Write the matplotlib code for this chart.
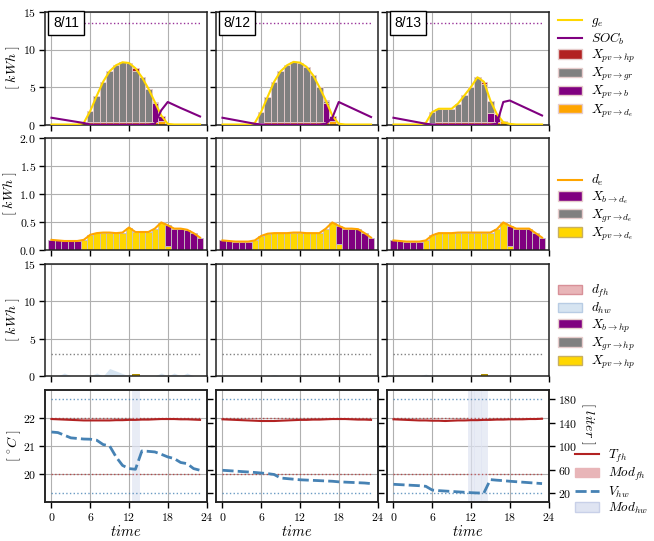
import numpy as np
import matplotlib
matplotlib.use('Agg')
import matplotlib.pyplot as plt
from matplotlib.patches import Patch
from matplotlib.lines import Line2D
from matplotlib.ticker import FuncFormatter

plt.rcParams['mathtext.fontset'] = 'cm'
plt.rcParams['font.family'] = 'DejaVu Serif'

hours = np.arange(24)
days = ['8/11', '8/12', '8/13']

# ---- electricity: PV generation and where it goes [kWh]
g_e = [
    [0, 0, 0, 0, 0, 0.2, 1.8, 3.8, 5.7, 7.1, 7.9, 8.3, 8.2, 7.5, 6.3, 4.8, 3.0, 1.2, 0.08, 0, 0, 0, 0, 0],
    [0, 0, 0, 0, 0, 0.2, 1.7, 3.7, 5.7, 7.1, 7.9, 8.35, 8.25, 7.7, 6.6, 5.0, 3.2, 1.2, 0.1, 0, 0, 0, 0, 0],
    [0, 0, 0, 0, 0, 0.2, 1.65, 2.1, 2.1, 2.1, 2.8, 3.9, 5.0, 6.3, 5.7, 3.2, 1.4, 0.3, 0.08, 0, 0, 0, 0, 0],
]
soc_b = [
    [0.9, 0.76, 0.62, 0.48, 0.34, 0.2, 0, 0, 0, 0, 0, 0, 0, 0, 0, 0, 0.1, 1.9, 3.0, 2.6, 2.2, 1.83, 1.45, 1.07],
    [0.9, 0.74, 0.58, 0.42, 0.26, 0.1, 0, 0, 0, 0, 0, 0, 0, 0, 0, 0, 0.1, 0.9, 3.0, 2.6, 2.2, 1.8, 1.4, 1.0],
    [0.9, 0.74, 0.58, 0.42, 0.26, 0.1, 0, 0, 0, 0, 0, 0, 0, 0, 0, 0, 0.1, 3.0, 3.2, 2.8, 2.4, 2.0, 1.6, 1.2],
]
soc_max = 13.5
pv_hp = [
    [0, 0, 0, 0, 0, 0, 0, 0, 0, 0, 0, 0, 0, 0.3, 0, 0, 0, 0, 0, 0, 0, 0, 0, 0],
    [0] * 24,
    [0, 0, 0, 0, 0, 0, 0, 0, 0, 0, 0, 0, 0, 0, 0.3, 0, 0, 0, 0, 0, 0, 0, 0, 0],
]
pv_gr = [
    [0, 0, 0, 0, 0, 0, 1.53, 3.5, 5.39, 6.79, 7.6, 7.99, 7.8, 6.88, 5.98, 4.48, 0.12, 0, 0, 0, 0, 0, 0, 0],
    [0, 0, 0, 0, 0, 0, 1.45, 3.41, 5.4, 6.8, 7.6, 8.04, 7.94, 7.4, 6.3, 4.7, 0.32, 0.1, 0, 0, 0, 0, 0, 0],
    [0, 0, 0, 0, 0, 0, 1.39, 1.8, 1.8, 1.8, 2.49, 3.59, 4.69, 5.99, 5.09, 1.69, 0.03, 0, 0, 0, 0, 0, 0, 0],
]
pv_b = [
    [0, 0, 0, 0, 0, 0, 0, 0, 0, 0, 0, 0, 0, 0, 0, 0, 2.5, 0.6, 0, 0, 0, 0, 0, 0],
    [0, 0, 0, 0, 0, 0, 0, 0, 0, 0, 0, 0, 0, 0, 0, 0, 2.5, 0.6, 0, 0, 0, 0, 0, 0],
    [0, 0, 0, 0, 0, 0, 0, 0, 0, 0, 0, 0, 0, 0, 0, 1.2, 1.0, 0, 0, 0, 0, 0, 0, 0],
]
pv_de = [
    [0, 0, 0, 0, 0, 0.18, 0.27, 0.30, 0.31, 0.31, 0.30, 0.31, 0.40, 0.32, 0.32, 0.32, 0.38, 0.49, 0.08, 0, 0, 0, 0, 0],
    [0, 0, 0, 0, 0, 0.17, 0.25, 0.29, 0.30, 0.30, 0.30, 0.31, 0.31, 0.30, 0.30, 0.30, 0.38, 0.49, 0.10, 0, 0, 0, 0, 0],
    [0, 0, 0, 0, 0, 0.17, 0.26, 0.30, 0.30, 0.30, 0.31, 0.31, 0.31, 0.31, 0.31, 0.31, 0.37, 0.49, 0.08, 0, 0, 0, 0, 0],
]

# ---- electric demand [kWh]
d_e = [
    [0.18, 0.17, 0.16, 0.16, 0.16, 0.18, 0.27, 0.30, 0.31, 0.31, 0.30, 0.31, 0.40, 0.32, 0.32, 0.32, 0.38, 0.49, 0.44, 0.38, 0.38, 0.36, 0.30, 0.22],
    [0.17, 0.16, 0.15, 0.15, 0.15, 0.17, 0.25, 0.29, 0.30, 0.30, 0.30, 0.31, 0.31, 0.30, 0.30, 0.30, 0.38, 0.49, 0.43, 0.38, 0.38, 0.37, 0.30, 0.22],
    [0.17, 0.16, 0.15, 0.15, 0.15, 0.17, 0.26, 0.30, 0.30, 0.30, 0.31, 0.31, 0.31, 0.31, 0.31, 0.31, 0.37, 0.49, 0.43, 0.38, 0.38, 0.38, 0.30, 0.22],
]
b_de = [
    [0.18, 0.17, 0.16, 0.16, 0.16, 0, 0, 0, 0, 0, 0, 0, 0, 0, 0, 0, 0, 0, 0.36, 0.38, 0.38, 0.36, 0.30, 0.22],
    [0.17, 0.16, 0.15, 0.15, 0.15, 0, 0, 0, 0, 0, 0, 0, 0, 0, 0, 0, 0, 0, 0.33, 0.38, 0.38, 0.37, 0.30, 0.22],
    [0.17, 0.16, 0.15, 0.15, 0.15, 0, 0, 0, 0, 0, 0, 0, 0, 0, 0, 0, 0, 0, 0.35, 0.38, 0.38, 0.38, 0.30, 0.22],
]
gr_de = [[0] * 24, [0] * 24, [0] * 24]

# ---- heat pump [kWh]
d_fh = [[0] * 24, [0] * 24, [0] * 24]
d_hw = [
    [0, 0, 0.4, 0, 0, 0, 0, 0.4, 0, 1.0, 0.67, 0.33, 0, 0, 0, 0, 0, 0.4, 0, 0.4, 0, 0.4, 0, 0],
    [0, 0, 0, 0, 0, 0, 0, 0, 0.2, 0, 0, 0, 0, 0, 0, 0, 0, 0, 0, 0, 0, 0, 0, 0],
    [0, 0, 0, 0, 0, 0.25, 0, 0, 0, 0, 0, 0, 0, 0, 0, 0, 0, 0, 0, 0, 0, 0, 0, 0],
]
b_hp = [[0] * 24, [0] * 24, [0] * 24]
gr_hp = [[0] * 24, [0] * 24, [0] * 24]
hp_max = 3.0

# ---- thermal states
T_fh = [
    [21.95, 21.94, 21.93, 21.92, 21.91, 21.90, 21.90, 21.90, 21.90, 21.90, 21.91, 21.91, 21.92, 21.92, 21.93, 21.93, 21.94, 21.95, 21.95, 21.95, 21.94, 21.94, 21.93, 21.92],
    [21.94, 21.93, 21.92, 21.91, 21.90, 21.89, 21.88, 21.88, 21.88, 21.89, 21.90, 21.91, 21.92, 21.92, 21.93, 21.93, 21.94, 21.95, 21.95, 21.95, 21.94, 21.93, 21.93, 21.92],
    [21.94, 21.93, 21.92, 21.91, 21.90, 21.90, 21.89, 21.89, 21.88, 21.89, 21.90, 21.90, 21.91, 21.91, 21.92, 21.92, 21.93, 21.93, 21.94, 21.94, 21.94, 21.95, 21.95, 21.96],
]
T_min, T_max = 20.0, 22.0
V_hw = [
    [124, 123, 118.5, 114, 113, 112, 111.7, 110, 102.6, 100.3, 81.5, 67, 61.6, 60.4, 91.7, 91, 90, 86, 81.5, 78.7, 72, 70, 61.6, 58.7],
    [58.7, 58, 57.3, 56.5, 55.8, 55, 54, 53, 51.5, 45.5, 44.5, 43.5, 42.5, 42, 41.5, 41, 40.5, 40, 39, 38.5, 38, 37.5, 37, 36],
    [34.8, 34.2, 33.6, 33, 32.4, 31.4, 25, 24, 23.3, 22.6, 21.9, 21.2, 20.5, 20, 20, 42.8, 41.8, 41, 40, 39.2, 38.4, 37.6, 36.8, 36],
]
V_min, V_max = 20, 180
mod_hw = [[13], [], [12, 13, 14]]

GOLD = '#FFD700'
ORANGE = '#FFA500'
PURPLE = '#800080'
GREY = 'grey'
RED = '#B22222'
EDGE = '#e6cccc'
PINK = '#e8b5b8'
LBLUE = '#d6e4f1'
LAV = '#dfe4f2'
BLUE = '#4682B4'

W, H = 654, 541
col_left = [45, 216, 387]
col_w = 161.5
row_top = [12, 137.5, 263.5, 389.5]
row_h = 112.5

fig = plt.figure(figsize=(6.54, 5.41), dpi=100)


def new_ax(r, c):
    return fig.add_axes([col_left[c] / W, 1 - (row_top[r] + row_h) / H, col_w / W, row_h / H])


int_fmt = FuncFormatter(lambda v, p: '$%g$' % v)
dec_fmt = FuncFormatter(lambda v, p: '$%.1f$' % v)


def style(ax, r, c, ylim, yticks, fmt):
    ax.set_xlim(-1, 24)
    ax.set_xticks([0, 6, 12, 18, 24])
    ax.set_ylim(*ylim)
    ax.set_yticks(yticks)
    ax.yaxis.set_major_formatter(fmt)
    ax.xaxis.set_major_formatter(int_fmt)
    ax.grid(True, color='#b0b0b0', lw=0.8)
    ax.set_axisbelow(True)
    ax.tick_params(labelsize=8.5, length=4, width=1, pad=2.5)
    for s in ax.spines.values():
        s.set_linewidth(1.1)
        s.set_color('#222222')
    if c > 0:
        ax.tick_params(labelleft=False)
    if r < 3:
        ax.tick_params(labelbottom=False)
    else:
        ax.set_xlabel(r'$time$', fontsize=10.5, labelpad=0)


def side_label(text, x_px, y_px, rot):
    fig.text(x_px / W, 1 - y_px / H, text, rotation=rot, ha='center', va='center', fontsize=10)


def place_legend(ax, handles, labels, x_px, y_px):
    # position given in figure pixels (left edge, vertical centre)
    ax.legend(handles, labels, loc='center left', frameon=False, fontsize=9.5,
              bbox_to_anchor=(x_px / W, 1 - y_px / H), bbox_transform=fig.transFigure,
              borderaxespad=0, handlelength=1.8, labelspacing=0.08, handletextpad=0.7)


for c in range(3):
    # ---- row 1: PV generation
    ax = new_ax(0, c)
    bottom = np.zeros(24)
    for vals, col in [(pv_de[c], ORANGE), (pv_b[c], PURPLE), (pv_gr[c], GREY), (pv_hp[c], RED)]:
        ax.bar(hours, vals, width=1, bottom=bottom, color=col, edgecolor=EDGE, linewidth=0.6)
        bottom = bottom + np.array(vals)
    ax.plot(hours, g_e[c], color=GOLD, lw=1.5, zorder=3)
    ax.plot(hours, soc_b[c], color=PURPLE, lw=1.5, zorder=3)
    ax.plot([5, 23], [soc_max, soc_max], color=PURPLE, lw=1, ls=':', alpha=0.8)
    ax.text(0.13, 0.9, days[c], transform=ax.transAxes, ha='center', va='center',
            fontsize=10, family='Liberation Sans',
            bbox=dict(boxstyle='square,pad=0.35', fc='white', ec='black', lw=1))
    style(ax, 0, c, (0, 15), [0, 5, 10, 15], int_fmt)
    if c == 2:
        h = [Line2D([], [], color=GOLD, lw=1.5), Line2D([], [], color=PURPLE, lw=1.5),
             Patch(fc=RED, ec=EDGE), Patch(fc=GREY, ec=EDGE), Patch(fc=PURPLE, ec=EDGE),
             Patch(fc=ORANGE, ec=EDGE)]
        l = [r'$g_e$', r'$SOC_b$', r'$X_{pv\rightarrow hp}$', r'$X_{pv\rightarrow gr}$',
             r'$X_{pv\rightarrow b}$', r'$X_{pv\rightarrow d_e}$']
        place_legend(ax, h, l, 553, 67)

    # ---- row 2: electric demand
    ax = new_ax(1, c)
    bottom = np.zeros(24)
    for vals, col in [(pv_de[c], GOLD), (gr_de[c], GREY), (b_de[c], PURPLE)]:
        ax.bar(hours, vals, width=1, bottom=bottom, color=col, edgecolor='#c8c0c0', linewidth=0.6)
        bottom = bottom + np.array(vals)
    ax.plot(hours, d_e[c], color=ORANGE, lw=1.5, zorder=3)
    style(ax, 1, c, (0, 2), [0, 0.5, 1, 1.5, 2], dec_fmt)
    if c == 2:
        h = [Line2D([], [], color=ORANGE, lw=1.5), Patch(fc=PURPLE, ec=EDGE),
             Patch(fc=GREY, ec=EDGE), Patch(fc=GOLD, ec='#c8b060')]
        l = [r'$d_e$', r'$X_{b\rightarrow d_e}$', r'$X_{gr\rightarrow d_e}$', r'$X_{pv\rightarrow d_e}$']
        place_legend(ax, h, l, 553, 208)

    # ---- row 3: heat pump
    ax = new_ax(2, c)
    ax.fill_between(hours, d_fh[c], color=PINK, alpha=0.8, lw=0)
    ax.fill_between(hours, d_hw[c], color=LBLUE, lw=0)
    bottom = np.zeros(24)
    for vals, col in [(pv_hp[c], GOLD), (gr_hp[c], GREY), (b_hp[c], PURPLE)]:
        ax.bar(hours, vals, width=1, bottom=bottom, color=col, edgecolor='#b09000', linewidth=0.6)
        bottom = bottom + np.array(vals)
    ax.plot([0, 23], [hp_max, hp_max], color='grey', lw=1, ls=':')
    style(ax, 2, c, (0, 15), [0, 5, 10, 15], int_fmt)
    if c == 2:
        h = [Patch(fc=PINK, ec='#d89098'), Patch(fc=LBLUE, ec='#b8cce4'), Patch(fc=PURPLE, ec=EDGE),
             Patch(fc=GREY, ec=EDGE), Patch(fc=GOLD, ec='#c8b060')]
        l = [r'$d_{fh}$', r'$d_{hw}$', r'$X_{b\rightarrow hp}$', r'$X_{gr\rightarrow hp}$',
             r'$X_{pv\rightarrow hp}$']
        place_legend(ax, h, l, 553, 327)

    # ---- row 4: temperatures and hot water volume
    ax = new_ax(3, c)
    ax2 = ax.twinx()
    for hr in mod_hw[c]:
        ax.axvspan(hr - 0.5, hr + 0.5, color=LAV, alpha=0.7, lw=0.5)
    ax.plot([0, 23], [T_max, T_max], color=RED, lw=1, ls=':', alpha=0.7)
    ax.plot([0, 23], [T_min, T_min], color=RED, lw=1, ls=':', alpha=0.7)
    ax.plot(hours, T_fh[c], color=RED, lw=1.5)
    ax2.plot([0, 23], [V_max, V_max], color=BLUE, lw=1, ls=':', alpha=0.8)
    ax2.plot([0, 23], [V_min, V_min], color=BLUE, lw=1, ls=':', alpha=0.8)
    ax2.plot(hours, V_hw[c], color=BLUE, lw=2, ls=(0, (4, 1.5)))
    style(ax, 3, c, (19, 23), [20, 21, 22], int_fmt)
    ax2.set_ylim(4.6, 196.5)
    ax2.set_yticks([20, 60, 100, 140, 180])
    ax2.yaxis.set_major_formatter(int_fmt)
    ax2.tick_params(labelsize=8.5, length=4, width=1, pad=2.5)
    for s in ax2.spines.values():
        s.set_linewidth(1.1)
        s.set_color('#222222')
    if c < 2:
        ax2.tick_params(labelright=False)
    if c == 2:
        h = [Line2D([], [], color=RED, lw=1.5), Patch(fc=PINK, ec=PINK),
             Line2D([], [], color=BLUE, lw=2, ls=(0, (4, 1.5))), Patch(fc=LAV, ec='#c8d0e8')]
        l = [r'$T_{fh}$', r'$Mod_{fh}$', r'$V_{hw}$', r'$Mod_{hw}$']
        place_legend(ax2, h, l, 570, 482)

# axis titles placed in figure pixels
label_x = [13, 10, 13, 14]
for r in range(3):
    side_label(r'$[\ kWh\ ]$', label_x[r], row_top[r] + row_h / 2, 90)
side_label(r'$[\ ^{\circ}C\ ]$', label_x[3], row_top[3] + row_h / 2, 90)
side_label(r'$[\ liter\ ]$', 588, 423, 270)

fig.savefig('out.png', dpi=100)
